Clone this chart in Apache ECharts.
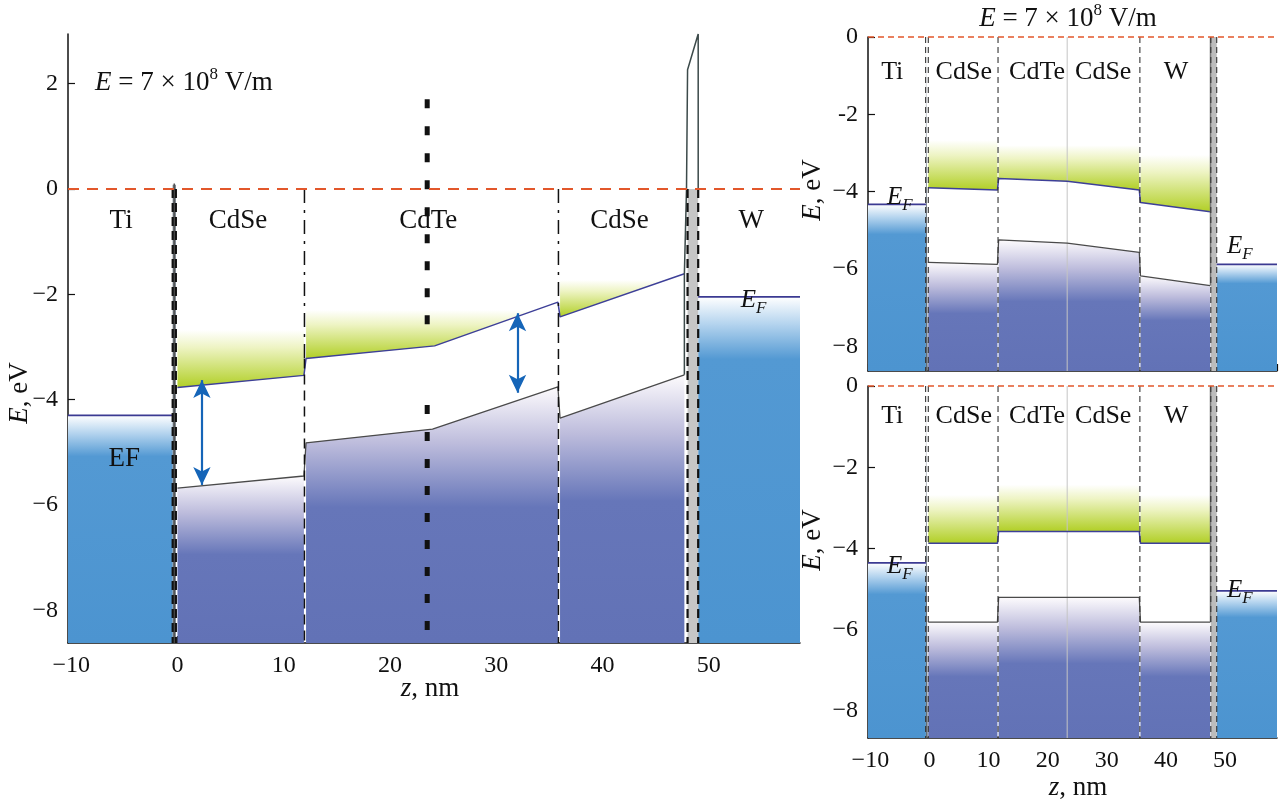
<!DOCTYPE html>
<html>
<head>
<meta charset="utf-8">
<script src="https://cdn.jsdelivr.net/npm/echarts@6/dist/echarts.min.js"></script>
<style>
  html, body { margin: 0; padding: 0; background: #fff; }
  #chart { width: 1280px; height: 803px; }
</style>
</head>
<body>
<div id="chart"></div>
<script>
// ---------- data (z in nm, E in eV) ----------
// main panel, field on
const mainCB = [
  [[0, -3.77], [11.9, -3.54]],
  [[12.1, -3.22], [24.2, -2.98], [35.8, -2.15]],
  [[36.0, -2.43], [47.7, -1.61]]
];
const mainVB = [
  [[0, -5.68], [11.9, -5.45]],
  [[12.1, -4.82], [24.0, -4.56], [35.8, -3.76]],
  [[36.0, -4.35], [47.7, -3.53]]
];
const mainGreen = [
  [[0, -3.77], [11.9, -3.54]],
  [[12.1, -3.22], [24.2, -2.98], [33.7, -2.3]],
  [[36.0, -2.43], [46.0, -1.73]]
];
const mainGreenTop = [-2.68, -2.3, -1.73];
const mainMetal = [[-10.3, -0.45, -4.3], [49.0, 58.58, -2.05]]; // x0, x1, EF
const mainSpike = [[47.7, -3.53], [47.7, -1.61], [47.9, 0], [48.0, 2.26], [49.0, 2.94], [49.0, 0]];
const mainArrows = [[2.3, -3.63, -5.62], [32.0, -2.36, -3.87]];
const mainDashX = [-0.45, -0.15, 48.0, 49.0];
const mainDashDot = [[11.95, -3.22], [35.85, -2.43]];
const mainMidX = 23.5;
const mainMidSegs = [[1.7, -2.9], [-4.1, -8.62]];
const mainLabels = [
  ['Ti', -5.3, -0.6], ['CdSe', 5.7, -0.6], ['CdTe', 23.6, -0.6], ['CdSe', 41.6, -0.6], ['W', 54.0, -0.6],
  ['EF', -5.0, -5.13], ['{i|E}{s|F}', 54.2, -2.12]
];

// right top, field on
const rtCB = [
  [[-0.2, -3.9], [11.5, -3.96]],
  [[11.7, -3.66], [23.3, -3.73], [35.5, -3.96]],
  [[35.7, -4.28], [47.5, -4.52]]
];
const rtVB = [
  [[-0.2, -5.83], [11.5, -5.88]],
  [[11.7, -5.25], [23.3, -5.33], [35.5, -5.57]],
  [[35.7, -6.18], [47.5, -6.43]]
];
const rtGreenTop = [-2.67, -2.8, -3.05];
const rtMetal = [[-10.4, -0.6, -4.33], [48.6, 58.8, -5.88]];
const rtLabels = [
  ['Ti', -6.3, -0.9], ['CdSe', 5.8, -0.9], ['CdTe', 18.2, -0.9], ['CdSe', 29.4, -0.9], ['W', 41.7, -0.9],
  ['{i|E}{s|F}', -5.0, -4.14], ['{i|E}{s|F}', 52.5, -5.43]
];

// right bottom, no field
const rbCB = [
  [[-0.2, -3.87], [11.5, -3.87]],
  [[11.7, -3.58], [35.5, -3.58]],
  [[35.7, -3.87], [47.5, -3.87]]
];
const rbVB = [
  [[-0.2, -5.81], [11.5, -5.81]],
  [[11.7, -5.2], [35.5, -5.2]],
  [[35.7, -5.81], [47.5, -5.81]]
];
const rbGreenTop = [-2.68, -2.43, -2.68];
const rbMetal = [[-10.4, -0.6, -4.35], [48.6, 58.8, -5.04]];
const rbLabels = [
  ['Ti', -6.3, -0.75], ['CdSe', 5.8, -0.75], ['CdTe', 18.2, -0.75], ['CdSe', 29.4, -0.75], ['W', 41.7, -0.75],
  ['{i|E}{s|F}', -5.0, -4.45], ['{i|E}{s|F}', 52.5, -5.02]
];

const rDashX = [-0.65, -0.2, 11.6, 35.6, 47.6, 48.6];
const rMidX = 23.3;

// ---------- styles ----------
const F = "'Liberation Serif', 'DejaVu Serif', serif";
const INK = '#111111';

function blueGrad() {
  return new echarts.graphic.LinearGradient(0, 0, 0, 1, [
    { offset: 0, color: '#ffffff' },
    { offset: 0.08, color: '#b3d3ee' },
    { offset: 0.18, color: '#5399d3' },
    { offset: 1, color: '#4c94d0' }
  ]);
}
function purpleGrad() {
  return new echarts.graphic.LinearGradient(0, 0, 0, 1, [
    { offset: 0, color: '#fdfbfd' },
    { offset: 0.22, color: '#bdbcdc' },
    { offset: 0.47, color: '#6676b9' },
    { offset: 1, color: '#6272b6' }
  ]);
}
function greenGrad() {
  return new echarts.graphic.LinearGradient(0, 0, 0, 1, [
    { offset: 0, color: '#ffffff' },
    { offset: 0.3, color: '#eef4c4' },
    { offset: 1, color: '#b1cf26' }
  ]);
}

const series = [];

function fill(gi, pts, origin, color, z) {
  series.push({
    type: 'line', xAxisIndex: gi, yAxisIndex: gi, data: pts, symbol: 'none', silent: true,
    lineStyle: { width: 0 }, areaStyle: { origin: origin, color: color, opacity: 1 }, z: z || 1
  });
}
function path(gi, pts, color, width, type, z) {
  series.push({
    type: 'line', xAxisIndex: gi, yAxisIndex: gi, data: pts, symbol: 'none', silent: true, clip: false,
    lineStyle: { color: color, width: width, type: type || 'solid' }, z: z || 3
  });
}
function labels(gi, items, size, subSize) {
  series.push({
    type: 'scatter', xAxisIndex: gi, yAxisIndex: gi, symbolSize: 0, silent: true, z: 10,
    itemStyle: { opacity: 1 },
    data: items.map(d => ({ value: [d[1], d[2]], name: d[0] })),
    label: {
      show: true, position: 'inside', formatter: p => p.name, color: INK, opacity: 1,
      fontFamily: F, fontSize: size,
      rich: {
        i: { fontFamily: F, fontSize: 25, fontStyle: 'italic', color: INK },
        s: { fontFamily: F, fontSize: subSize, fontStyle: 'italic', color: INK, padding: [16, 0, 0, 0] }
      }
    }
  });
}

function panel(gi, cb, vb, greens, tops, metals) {
  metals.forEach(m => fill(gi, [[m[0], m[2]], [m[1], m[2]]], 'start', blueGrad(), 1));
  metals.forEach(m => path(gi, [[m[0], m[2]], [m[1], m[2]]], '#3b3a92', 1.8, 'solid', 4));
  vb.forEach(seg => fill(gi, seg, 'start', purpleGrad(), 1));
  greens.forEach((seg, k) => fill(gi, seg, tops[k], greenGrad(), 1));
  path(gi, cb.flat(), '#3d3f98', 1.5, 'solid', 4);
  path(gi, vb.flat(), '#4a4a4a', 1.3, 'solid', 4);
}

// main panel
panel(0, mainCB, mainVB, mainGreen, mainGreenTop, mainMetal);
fill(0, [[mainDashX[0], 0.08], [mainDashX[1], 0.08]], 'start', '#6f7a86', 2);
fill(0, [[mainDashX[2], 0], [mainDashX[3], 0]], 'start', '#c6c6c6', 2);
path(0, mainSpike, '#3c4a4a', 1.5, 'solid', 4);
path(0, [[-0.3, -8.62], [-0.3, 0.1]], '#555', 1.5, 'solid', 4);
mainDashX.forEach(x => path(0, [[x, 0], [x, -8.62]], '#111', 2.2, [9, 5], 5));
mainDashDot.forEach(d => {
  path(0, [[d[0], 0], [d[0], d[1]]], '#111', 1.5, [14, 7, 3, 7], 5);
  path(0, [[d[0], d[1]], [d[0], -8.62]], '#111', 1.5, [10, 6], 5);
});
mainMidSegs.forEach(s => path(0, [[mainMidX, s[0]], [mainMidX, s[1]]], '#111', 5, [9, 18], 5));
path(0, [[-10.3, 0], [58.58, 0]], '#e2572b', 2, [11, 8], 6);
labels(0, mainLabels, 27, 17);
series.push({
  type: 'line', xAxisIndex: 0, yAxisIndex: 0, data: [], silent: true, z: 8,
  markLine: {
    silent: true, animation: false, symbol: ['arrow', 'arrow'], symbolSize: [13, 18],
    label: { show: false },
    lineStyle: { color: '#1565b8', width: 2.2, type: 'solid' },
    data: mainArrows.map(a => [{ coord: [a[0], a[1]] }, { coord: [a[0], a[2]] }])
  }
});

// right panels
function sidePanel(gi, cb, vb, tops, metals, ymin, lbls) {
  panel(gi, cb, vb, cb, tops, metals);
  fill(gi, [[-0.6, 0], [-0.3, 0]], 'start', '#5f6a75', 2);
  fill(gi, [[47.6, 0], [48.6, 0]], 'start', '#bcbcbc', 2);
  path(gi, [[47.55, vb[2][vb[2].length - 1][1]], [47.55, 0]], '#777', 1.5, 'solid', 4);
  path(gi, [[rMidX, 0], [rMidX, ymin]], '#c4c4c4', 1, 'solid', 3);
  rDashX.forEach(x => path(gi, [[x, 0], [x, ymin]], '#333', 1.1, [6, 4], 5));
  path(gi, [[-10.4, 0], [58.8, 0]], '#e2572b', 1.6, [6, 4], 6);
  labels(gi, lbls, 26, 17);
}
sidePanel(1, rtCB, rtVB, rtGreenTop, rtMetal, -8.64, rtLabels);
sidePanel(2, rbCB, rbVB, rbGreenTop, rbMetal, -8.66, rbLabels);

// ---------- axes ----------
const fmt = (v, step, hyphenAt) => {
  if (Math.abs(v / step - Math.round(v / step)) > 1e-6) return '';
  if (hyphenAt !== undefined && v === hyphenAt) return String(v);
  return v < 0 ? '\u2212' + Math.abs(v) : String(v);
};
function xAxis(gi, min, max, show) {
  return {
    type: 'value', gridIndex: gi, min: min, max: max, splitNumber: 7,
    axisLine: { onZero: false, lineStyle: { color: INK, width: 1.5 } },
    axisTick: { inside: true, length: 7, lineStyle: { color: INK, width: 1.2 } },
    splitLine: { show: false },
    axisLabel: {
      show: show, showMinLabel: false, showMaxLabel: false, margin: 11,
      color: INK, fontFamily: F, fontSize: 24, formatter: v => fmt(v, 10)
    }
  };
}
function yAxis(gi, min, max, showMax, hyphenAt) {
  return {
    type: 'value', gridIndex: gi, min: min, max: max,
    axisLine: { onZero: false, lineStyle: { color: INK, width: 1.5 } },
    axisTick: { inside: true, length: 7, lineStyle: { color: INK, width: 1.2 } },
    splitLine: { show: false },
    axisLabel: {
      showMinLabel: false, showMaxLabel: showMax, margin: 10,
      color: INK, fontFamily: F, fontSize: 24, formatter: v => fmt(v, 2, hyphenAt)
    }
  };
}

const richT = {
  i: { fontFamily: F, fontSize: 27, fontStyle: 'italic', fill: INK },
  n: { fontFamily: F, fontSize: 27, fill: INK },
  p: { fontFamily: F, fontSize: 17, fill: INK, padding: [0, 0, 17, 0] }
};
function txt(x, y, text, align, rot) {
  return {
    type: 'text', x: x, y: y, rotation: rot || 0, silent: true,
    style: { text: text, rich: richT, font: '27px ' + F, fill: INK, align: align || 'center', verticalAlign: 'middle' }
  };
}
const titleText = '{i|E}{n| = 7 \u00d7 10}{p|8}{n| V/m}';

const option = {
  animation: false,
  backgroundColor: '#ffffff',
  grid: [
    { left: 68, top: 34, width: 732, height: 609 },
    { left: 868, top: 37, width: 409, height: 334 },
    { left: 868, top: 386, width: 409, height: 352 }
  ],
  xAxis: [
    xAxis(0, -10.3, 58.58, true),
    xAxis(1, -10.4, 58.8, false),
    xAxis(2, -10.4, 58.8, true)
  ],
  yAxis: [
    yAxis(0, -8.62, 2.94, false),
    yAxis(1, -8.64, 0, true, -2),
    yAxis(2, -8.66, 0, true)
  ],
  graphic: [
    txt(95, 83, titleText, 'left'),
    txt(1068, 19, titleText, 'center'),
    txt(20, 393, '{i|E}{n|, eV}', 'center', Math.PI / 2),
    txt(813, 190, '{i|E}{n|, eV}', 'center', Math.PI / 2),
    txt(813, 540, '{i|E}{n|, eV}', 'center', Math.PI / 2),
    txt(430, 689, '{i|z}{n|, nm}', 'center'),
    txt(1078, 788, '{i|z}{n|, nm}', 'center')
  ],
  series: series
};

const chart = echarts.init(document.getElementById('chart'));
chart.setOption(option);
</script>
</body>
</html>
